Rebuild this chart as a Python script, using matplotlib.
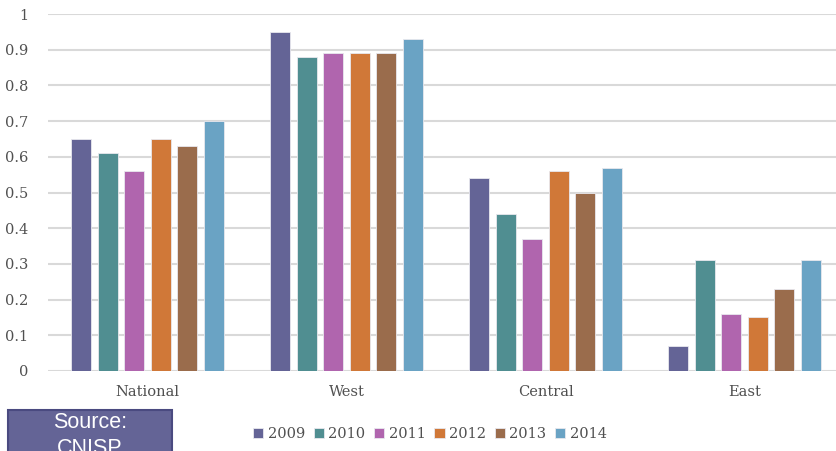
import numpy as np
import matplotlib
matplotlib.use('Agg')
import matplotlib.pyplot as plt
from matplotlib.patches import Rectangle

regions = ['National', 'West', 'Central', 'East']
years = ['2009', '2010', '2011', '2012', '2013', '2014']
v2009 = [0.65, 0.95, 0.54, 0.07]
v2010 = [0.61, 0.88, 0.44, 0.31]
v2011 = [0.56, 0.89, 0.37, 0.16]
v2012 = [0.65, 0.89, 0.56, 0.15]
v2013 = [0.63, 0.89, 0.50, 0.23]
v2014 = [0.70, 0.93, 0.57, 0.31]
yticks = [0, 0.1, 0.2, 0.3, 0.4, 0.5, 0.6, 0.7, 0.8, 0.9, 1]
ytick_labels = ['0', '0.1', '0.2', '0.3', '0.4', '0.5', '0.6', '0.7', '0.8', '0.9', '1']

series = [v2009, v2010, v2011, v2012, v2013, v2014]
colors = ['#646496', '#508e91', '#b065ae', '#d07838', '#9a6c4c', '#6aa3c4']

plt.rcParams['font.family'] = ['DejaVu Serif']

W, H = 836, 451
fig = plt.figure(figsize=(W / 100, H / 100), dpi=100)
ax = fig.add_axes([48 / W, 1 - 371 / H, (844 - 48) / W, (371 - 14) / H])

x = np.arange(len(regions))
step = 0.133
width = 0.1
for i, (vals, c) in enumerate(zip(series, colors)):
    ax.bar(x + (i - 2.5) * step, vals, width, color=c, edgecolor='#e8e8ee',
           linewidth=0.6, label=years[i], zorder=3)

ax.set_xlim(-0.5, len(regions) - 0.5)
ax.set_ylim(0, 1)
ax.set_yticks(yticks)
ax.set_yticklabels(ytick_labels, fontsize=10.5, color='#505050')
ax.set_xticks(x)
ax.set_xticklabels(regions, fontsize=10.5, color='#505050')
ax.tick_params(axis='both', length=0)
ax.tick_params(axis='y', pad=14)
ax.tick_params(axis='x', pad=10)
ax.yaxis.grid(True, color='#d9d9d9', linewidth=1.5, zorder=0)
ax.set_axisbelow(True)
for s in ax.spines.values():
    s.set_visible(False)

fig.legend(loc='center', bbox_to_anchor=(430 / W, 1 - 434 / H), ncol=6,
           frameon=False, fontsize=10.5, handlelength=0.7, handleheight=0.7,
           handletextpad=0.3, columnspacing=0.6, labelcolor='#505050')

# source box in lower left (cut off by the bottom edge, as in the original)
fig.patches.append(Rectangle((8 / W, -0.05), (172 - 8) / W, 0.05 + (451 - 410) / H,
                             transform=fig.transFigure, facecolor='#646496',
                             edgecolor='#4a4a80', linewidth=1.5))
fig.text(90 / W, 1 - 422 / H, 'Source:', ha='center', va='center', color='white',
         fontsize=15.5, family='Liberation Sans')
fig.text(90 / W, 1 - 449 / H, 'CNISP', ha='center', va='center', color='white',
         fontsize=15.5, family='Liberation Sans')

fig.savefig('out.png', dpi=100)
